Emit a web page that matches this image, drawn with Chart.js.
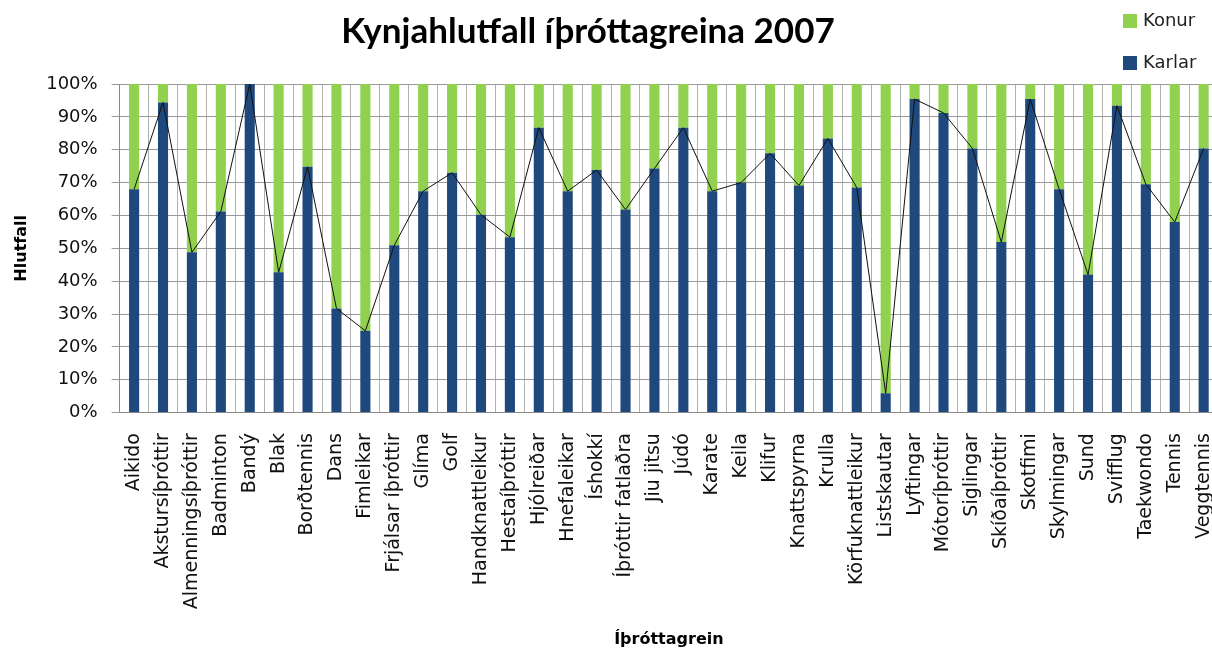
<!DOCTYPE html>
<html>
<head>
<meta charset="utf-8">
<script src="https://cdn.jsdelivr.net/npm/chart.js@4"></script>
<style>
  html, body { margin: 0; padding: 0; background: #fff; overflow: hidden; }
  #wrap { position: relative; width: 1212px; height: 651px; overflow: hidden; }
  #kyn { position: absolute; left: 0; top: 0; }
  .titill { position: absolute; left: 0; top: 12px; width: 1176px; text-align: center;
    font: bold 35px Lato, sans-serif; line-height: 35px; color: #000; }
  .leg { position: absolute; left: 1123px; font: 18px "DejaVu Sans", sans-serif; line-height: 20px; color: #222; }
  .leg span { display: inline-block; width: 14px; height: 14px; margin-right: 6px; vertical-align: -2px; }
</style>
</head>
<body>
<div id="wrap">
  <canvas id="kyn" width="1247" height="651"></canvas>
  <div class="titill">Kynjahlutfall íþróttagreina 2007</div>
  <div class="leg" style="top:10px"><span style="background:#92D050"></span>Konur</div>
  <div class="leg" style="top:52px"><span style="background:#1F497D"></span>Karlar</div>
</div>
<script>
const greinar = ["Aikido", "Akstursíþróttir", "Almenningsíþróttir", "Badminton", "Bandý", "Blak",
  "Borðtennis", "Dans", "Fimleikar", "Frjálsar íþróttir", "Glíma", "Golf", "Handknattleikur",
  "Hestaíþróttir", "Hjólreiðar", "Hnefaleikar", "Íshokkí", "Íþróttir fatlaðra", "Jiu jitsu", "Júdó",
  "Karate", "Keila", "Klifur", "Knattspyrna", "Krulla", "Körfuknattleikur", "Listskautar", "Lyftingar",
  "Mótoríþróttir", "Siglingar", "Skíðaíþróttir", "Skotfimi", "Skylmingar", "Sund", "Svifflug",
  "Taekwondo", "Tennis", "Veggtennis"];

const karlar = [68, 94.4, 48.8, 61.2, 100, 42.7, 74.8, 31.7, 24.9, 50.9, 67.4, 73.0, 60.2,
  53.4, 86.7, 67.4, 73.8, 61.8, 74.3, 86.7, 67.4, 70.0, 78.9, 69.1, 83.4, 68.5, 5.9, 95.4,
  91.2, 80.4, 51.9, 95.4, 68.0, 42.0, 93.4, 69.5, 58.0, 80.4];

const konur = [32, 5.6, 51.2, 38.8, 0, 57.3, 25.2, 68.3, 75.1, 49.1, 32.6, 27.0, 39.8,
  46.6, 13.3, 32.6, 26.2, 38.2, 25.7, 13.3, 32.6, 30.0, 21.1, 30.9, 16.6, 31.5, 94.1, 4.6,
  8.8, 19.6, 48.1, 4.6, 32.0, 58.0, 6.6, 30.5, 42.0, 19.6];

const fontName = '"DejaVu Sans", sans-serif';

new Chart(document.getElementById("kyn"), {
  type: "bar",
  data: {
    labels: greinar,
    datasets: [
      {
        type: "line",
        label: "lína",
        data: karlar,
        stack: "lina",
        borderColor: "#111",
        borderWidth: 1,
        pointRadius: 0,
        tension: 0,
        order: 0
      },
      {
        label: "Karlar",
        data: karlar,
        backgroundColor: "#1F497D",
        stack: "s",
        barPercentage: 0.7,
        categoryPercentage: 0.5,
        order: 1
      },
      {
        label: "Konur",
        data: konur,
        backgroundColor: "#92D050",
        stack: "s",
        barPercentage: 0.7,
        categoryPercentage: 0.5,
        order: 1
      }
    ]
  },
  options: {
    responsive: false,
    devicePixelRatio: 1,
    animation: false,
    layout: { padding: { left: 6, right: 3, top: 84, bottom: 2 } },
    plugins: {
      legend: { display: false },
      tooltip: { enabled: false },
      title: { display: false }
    },
    scales: {
      x: {
        stacked: true,
        grid: { color: "#b0b0b0", offset: true, drawTicks: false },
        border: { color: "#8a8a8a" },
        ticks: {
          color: "#111",
          font: { family: fontName, size: 19 },
          minRotation: 90,
          maxRotation: 90,
          autoSkip: false,
          padding: 20.5
        },
        title: {
          display: true,
          text: "Íþróttagrein",
          color: "#000",
          font: { family: fontName, size: 16, weight: "bold" },
          padding: { top: 0, bottom: 0 }
        }
      },
      y: {
        stacked: true,
        min: 0,
        max: 100,
        grid: { color: "#9a9a9a", tickLength: 8 },
        border: { color: "#8a8a8a" },
        ticks: {
          stepSize: 10,
          color: "#111",
          font: { family: fontName, size: 18 },
          padding: 14,
          callback: v => v + "%"
        },
        title: {
          display: true,
          text: "Hlutfall",
          color: "#000",
          font: { family: fontName, size: 16, weight: "bold" },
          padding: { top: 6, bottom: 1 }
        }
      }
    }
  }
});
</script>
</body>
</html>
